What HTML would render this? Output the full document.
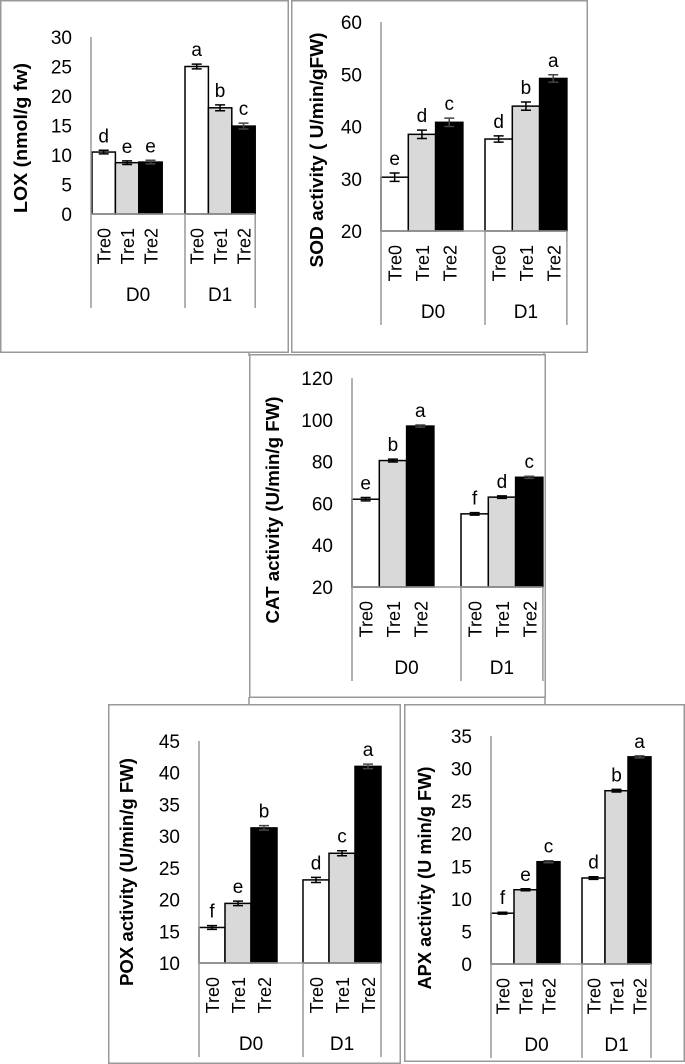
<!DOCTYPE html>
<html><head><meta charset="utf-8"><style>
html,body{margin:0;padding:0;background:#fff;}
svg{display:block;font-family:"Liberation Sans",sans-serif;}
</style></head><body>
<svg id="fig" width="685" height="1064" viewBox="0 0 685 1064" xmlns="http://www.w3.org/2000/svg"></svg>
<script>
// ---- data ----
const groups = ["D0","D1"];
const treatments = ["Tre0","Tre1","Tre2"];
const loxValues = [10.5, 8.7, 8.8, 25.0, 18.0, 14.9];
const loxErrors = [0.3, 0.3, 0.3, 0.4, 0.5, 0.5];
const loxLetters = ["d","e","e","a","b","c"];
const loxTicks = [0,5,10,15,20,25,30];
const sodValues = [30.3, 38.5, 40.8, 37.6, 43.9, 49.2];
const sodErrors = [0.8, 0.8, 0.8, 0.6, 0.8, 0.7];
const sodLetters = ["e","d","c","d","b","a"];
const sodTicks = [20,30,40,50,60];
const catValues = [62, 80.5, 97, 55, 63, 72.5];
const catErrors = [0.8, 0.7, 0.5, 0.6, 0.6, 0.5];
const catLetters = ["e","b","a","f","d","c"];
const catTicks = [20,40,60,80,100,120];
const poxValues = [15.6, 19.4, 31.3, 23.1, 27.3, 41.0];
const poxErrors = [0.3, 0.35, 0.35, 0.4, 0.4, 0.35];
const poxLetters = ["f","e","b","d","c","a"];
const poxTicks = [10,15,20,25,30,35,40,45];
const apxValues = [7.8, 11.4, 15.7, 13.2, 26.6, 31.8];
const apxErrors = [0.15, 0.15, 0.15, 0.2, 0.2, 0.15];
const apxLetters = ["f","e","c","d","b","a"];
const apxTicks = [0,5,10,15,20,25,30,35];

const NS="http://www.w3.org/2000/svg";
const svg=document.getElementById('fig');
function mk(tag,attrs,parent,text){const e=document.createElementNS(NS,tag);for(const k in attrs)e.setAttribute(k,attrs[k]);if(text!==undefined)e.textContent=text;(parent||svg).appendChild(e);return e;}

mk('line',{x1:249,y1:352,x2:249,y2:356,stroke:'#999','stroke-width':1.5});
mk('line',{x1:544,y1:352,x2:544,y2:356,stroke:'#999','stroke-width':1.5});
mk('line',{x1:249,y1:697,x2:249,y2:705,stroke:'#999','stroke-width':1.5});
mk('line',{x1:545,y1:697,x2:545,y2:705,stroke:'#999','stroke-width':1.5});

const fills=['#ffffff','#d9d9d9','#000000'];

function panel(cfg,values,errors,letters,ticks){
  const g=mk('g',{});
  
  
  const b=cfg.box;
  const frame=mk('rect',{x:b[0]+0.75,y:b[1]+0.75,width:b[2]-b[0]-1.5,height:b[3]-b[1]-1.5,fill:'#fff',stroke:'#999','stroke-width':1.5},g);
  
  
  const min=ticks[0],max=ticks[ticks.length-1];
  const y=v=>cfg.yBot-(v-min)/(max-min)*(cfg.yBot-cfg.yTop);
  const ax=cfg.axisX;
  ticks.forEach(t=>{
    const tl=mk('text',{x:ax-19,y:y(t)+7,'text-anchor':'end','font-size':19,fill:'#000'},g,String(t));
    
    
  });
  const yt=mk('text',{x:cfg.title[0],y:cfg.title[1],'text-anchor':'middle','font-size':18,'font-weight':'bold',textLength:cfg.titleLen,lengthAdjust:'spacingAndGlyphs',transform:`rotate(-90 ${cfg.title[0]} ${cfg.title[1]})`},g,cfg.titleText);
  
  
  const ends=[];
  values.forEach((v,i)=>{
    const gi=Math.floor(i/3),ti=i%3;
    const x0=cfg.gStart[gi]+ti*cfg.bw;
    const top=y(v);
    const r=mk('rect',{x:x0,y:top,width:cfg.bw,height:cfg.yBot-top,fill:fills[ti],stroke:'#000','stroke-width':1.5},g);
    
    
    const cx=x0+cfg.bw/2;
    const eT=y(v+errors[i]),eB=y(v-errors[i]);
    const eb=mk('path',{d:`M${cx-5} ${eT}H${cx+5}M${cx} ${eT}V${eB}M${cx-5} ${eB}H${cx+5}`,stroke:ti==2?'#444':'#000','stroke-width':1.5,fill:'none'},g);
    
    
    const lt=mk('text',{x:cx,y:eT-8,'text-anchor':'middle','font-size':19},g,letters[i]);
    
    
    const tx=cx+7,ty=cfg.yBot+14;
    const cl=mk('text',{x:tx,y:ty,'text-anchor':'end','font-size':18,transform:`rotate(-90 ${tx} ${ty})`},g,treatments[ti]);
    
    
    ends.push(x0+cfg.bw);
  });
  const right=ends[ends.length-1];
  const catBot=cfg.yBot+94;
  mk('line',{x1:ax,y1:cfg.yTop,x2:ax,y2:catBot,stroke:'#999','stroke-width':1.5},g);
  mk('line',{x1:ax,y1:cfg.yBot,x2:right,y2:cfg.yBot,stroke:'#999','stroke-width':1.5},g);
  mk('line',{x1:cfg.gStart[1],y1:cfg.yBot,x2:cfg.gStart[1],y2:catBot,stroke:'#999','stroke-width':1.5},g);
  mk('line',{x1:right,y1:cfg.yBot,x2:right,y2:catBot,stroke:'#999','stroke-width':1.5},g);
  const gc=[(ax+cfg.gStart[1])/2,(cfg.gStart[1]+right)/2];
  groups.forEach((gn,gi)=>{
    const t=mk('text',{x:gc[gi],y:cfg.yBot+87,'text-anchor':'middle','font-size':19},g,gn);
    
    
  });
}

panel({name:'lox',box:[0,0,289,353],axisX:91,yTop:37,yBot:214,gStart:[92,185],bw:23.4,title:[27,138],titleLen:150,titleText:'LOX (nmol/g fw)'},loxValues,loxErrors,loxLetters,loxTicks);
panel({name:'sod',box:[291,0,588,353],axisX:381,yTop:22,yBot:231,gStart:[381,485],bw:27.3,title:[323,150],titleLen:235,titleText:'SOD activity ( U/min/gFW)'},sodValues,sodErrors,sodLetters,sodTicks);
panel({name:'cat',box:[249,354,546,698],axisX:352,yTop:378,yBot:587,gStart:[352,461],bw:27.3,title:[279,510],titleLen:227,titleText:'CAT activity (U/min/g FW)'},catValues,catErrors,catLetters,catTicks);
panel({name:'pox',box:[108,704,401,1064],axisX:199,yTop:741,yBot:963,gStart:[199,303],bw:26,title:[133,872],titleLen:228,titleText:'POX activity (U/min/g FW)'},poxValues,poxErrors,poxLetters,poxTicks);
panel({name:'apx',box:[404,704,685,1062],axisX:491,yTop:736,yBot:964,gStart:[491,582],bw:23,title:[431,878],titleLen:223,titleText:'APX activity (U min/g FW)'},apxValues,apxErrors,apxLetters,apxTicks);
</script>
</body></html>
